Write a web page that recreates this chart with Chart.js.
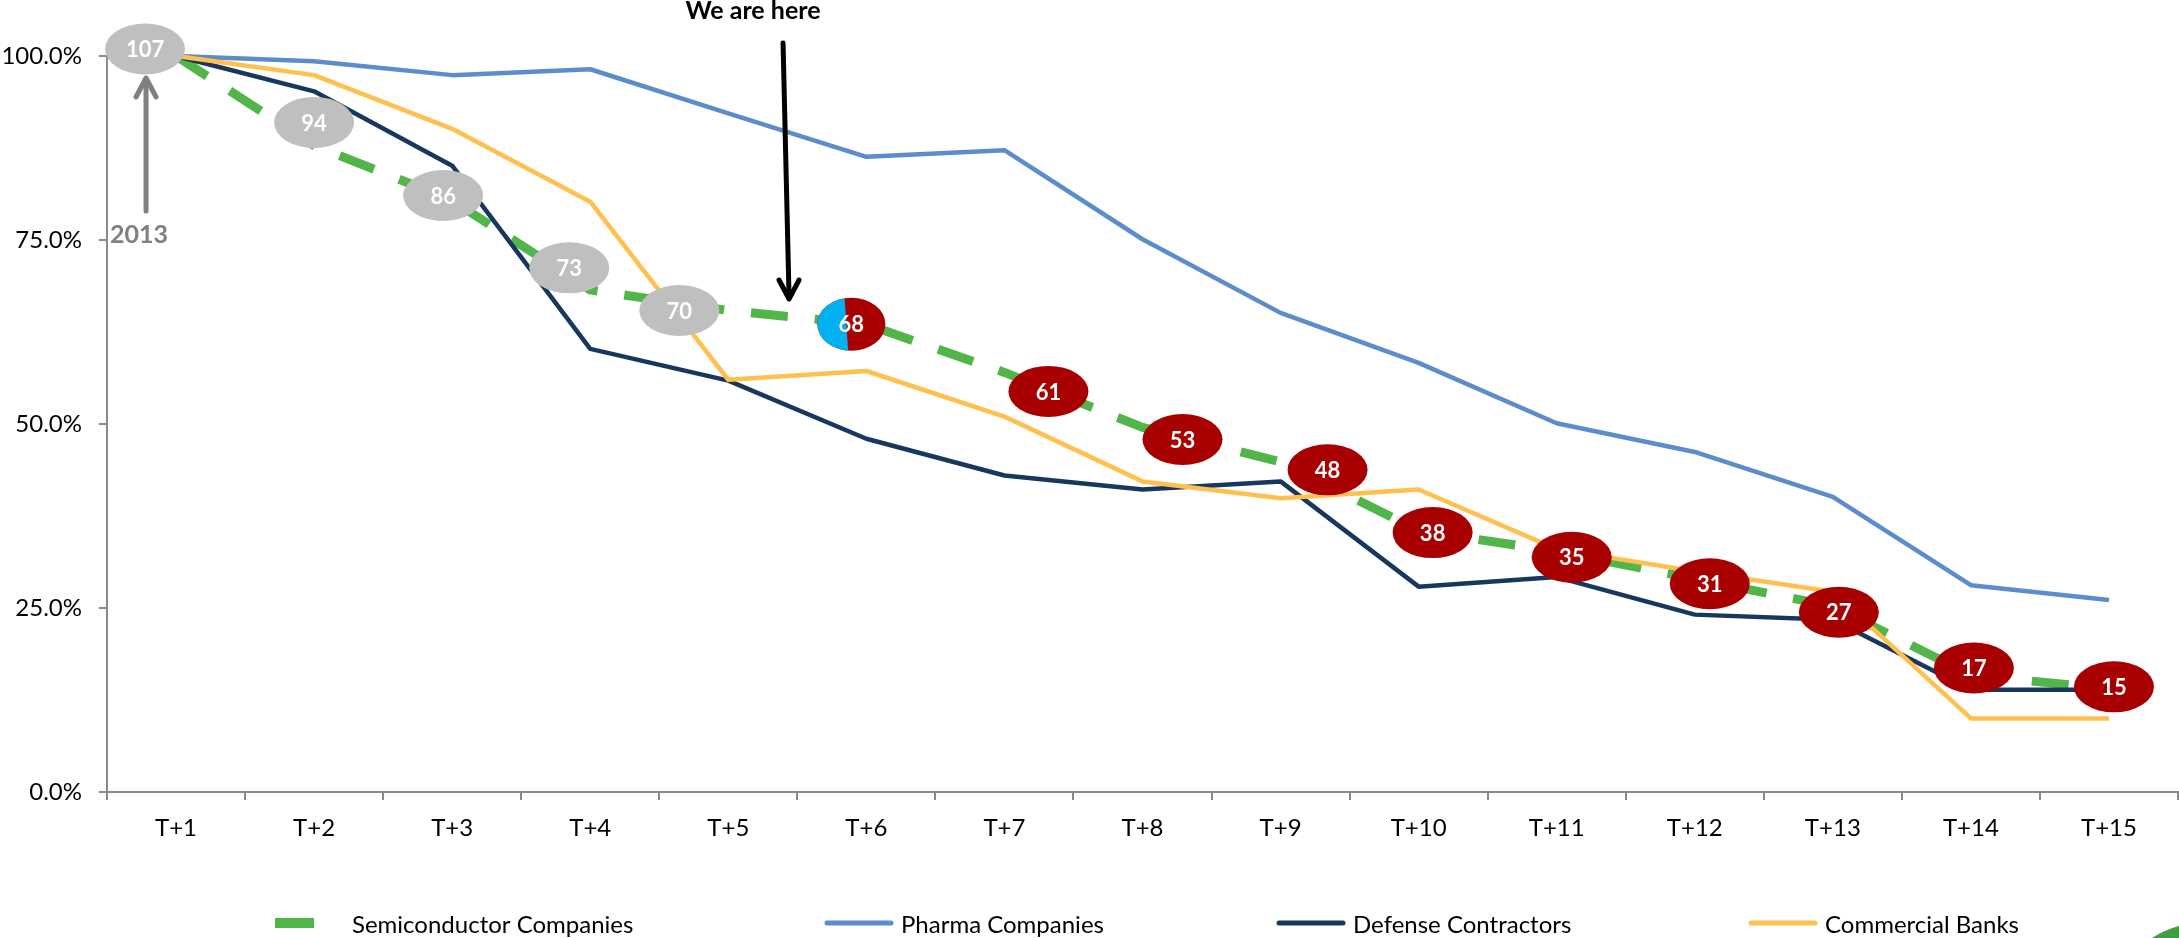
<!DOCTYPE html>
<html>
<head>
<meta charset="utf-8">
<script src="https://cdn.jsdelivr.net/npm/chart.js@4.4.1/dist/chart.umd.min.js"></script>
<style>
  html, body { margin: 0; padding: 0; background: #fff; }
  #wrap { width: 2179px; height: 938px; }
</style>
</head>
<body>
<div id="wrap"><canvas id="myChart" width="2179" height="938"></canvas></div>
<script>
const periods = ["T+1", "T+2", "T+3", "T+4", "T+5", "T+6", "T+7", "T+8", "T+9", "T+10", "T+11", "T+12", "T+13", "T+14", "T+15"];
// number of semiconductor companies left in each period
const semiCounts = [107, 94, 86, 73, 70, 68, 61, 53, 48, 38, 35, 31, 27, 17, 15];
// share of companies remaining, in %
const pharma = [100, 99.3, 97.4, 98.2, 92.2, 86.3, 87.2, 75.1, 65.1, 58.3, 50.1, 46.2, 40.1, 28.1, 26.1];
const defense = [100, 95.2, 85.1, 60.2, 55.9, 48.0, 43.0, 41.1, 42.2, 27.9, 29.2, 24.1, 23.4, 13.9, 13.9];
const banks = [100, 97.4, 90.1, 80.2, 56.0, 57.2, 51.0, 42.2, 39.9, 41.1, 33.0, 30.0, 27.2, 10.0, 10.0];
const yTicks = [0, 25, 50, 75, 100];

const currentIdx = 5;      // T+6 is the current period
const herePos = 4.44;      // where the "We are here" arrow lands on the x axis
const startYear = "2013";

const semiPct = semiCounts.map((c) => (c / semiCounts[0]) * 100);

const GREEN = "#52b549";
const BLUE = "#5b8dcc";
const NAVY = "#17375e";
const YELLOW = "#ffc04d";
const AXIS = "#8a8a8a";
const FONT = "Lato";

// label bubble nudges (px) so they sit clear of the lines
const bubbleShift = [[-31, -7], [0, -23], [-9, -5], [-21, -22], [-49, 0], [-15, 0], [44, 19], [40, 12],
  [47, 8], [14, 2], [15, 6], [15, 5], [6, 6], [3, -7], [5, -2]];

const legendX = [275, 824, 1276, 1748];

const overlay = {
  id: "overlay",
  afterDatasetsDraw(chart) {
    const ctx = chart.ctx;
    const xs = chart.scales.x;
    const pts = chart.getDatasetMeta(0).data;

    ctx.save();
    pts.forEach((pt, i) => {
      const cx = pt.x + bubbleShift[i][0];
      const cy = pt.y + bubbleShift[i][1];
      if (i === currentIdx) {
        ctx.save();
        ctx.beginPath();
        ctx.ellipse(cx, cy, 34, 26.5, 0, 0, Math.PI * 2);
        ctx.clip();
        ctx.fillStyle = "#a80000";
        ctx.fillRect(cx - 40, cy - 30, 80, 60);
        ctx.fillStyle = "#00b0f0";
        ctx.beginPath();
        ctx.moveTo(cx - 40, cy - 30);
        ctx.lineTo(cx - 7, cy - 30);
        ctx.lineTo(cx - 3, cy + 30);
        ctx.lineTo(cx - 40, cy + 30);
        ctx.fill();
        ctx.restore();
      } else {
        ctx.fillStyle = i < currentIdx ? "#bfbfbf" : "#a80000";
        ctx.beginPath();
        ctx.ellipse(cx, cy, 40, 25.5, 0, 0, Math.PI * 2);
        ctx.fill();
      }
      ctx.fillStyle = "#fff";
      ctx.font = "bold 22px " + FONT;
      ctx.textAlign = "center";
      ctx.textBaseline = "middle";
      ctx.fillText(String(semiCounts[i]), cx, cy + 1);
    });

    // grey arrow up to the first bubble, with the start year
    const ax = pts[0].x + bubbleShift[0][0] + 1;
    ctx.strokeStyle = "#808080";
    ctx.lineWidth = 5;
    ctx.lineCap = "round";
    ctx.lineJoin = "round";
    ctx.beginPath();
    ctx.moveTo(ax, 211);
    ctx.lineTo(ax, 80);
    ctx.stroke();
    ctx.beginPath();
    ctx.moveTo(ax - 10, 97);
    ctx.lineTo(ax, 78);
    ctx.lineTo(ax + 10, 97);
    ctx.stroke();
    ctx.fillStyle = "#808080";
    ctx.font = "bold 25px " + FONT;
    ctx.textAlign = "center";
    ctx.textBaseline = "alphabetic";
    ctx.fillText(startYear, ax - 7, 243);

    // "We are here" marker
    const hx = xs.getPixelForValue(herePos);
    ctx.strokeStyle = "#000";
    ctx.beginPath();
    ctx.moveTo(hx - 6, 43);
    ctx.lineTo(hx, 297);
    ctx.stroke();
    ctx.beginPath();
    ctx.moveTo(hx - 10, 280);
    ctx.lineTo(hx, 299);
    ctx.lineTo(hx + 10, 280);
    ctx.stroke();
    ctx.fillStyle = "#000";
    ctx.font = "bold 25px " + FONT;
    ctx.fillText("We are here", hx - 36, 19);
    ctx.restore();
  },
  afterDraw(chart) {
    const ctx = chart.ctx;
    ctx.save();
    chart.data.datasets.forEach((ds, i) => {
      const x0 = legendX[i];
      if (ds.borderDash) {
        ctx.fillStyle = ds.borderColor;
        ctx.fillRect(x0, 918, 39, 10);
      } else {
        ctx.strokeStyle = ds.borderColor;
        ctx.lineWidth = 5;
        ctx.lineCap = "round";
        ctx.beginPath();
        ctx.moveTo(x0 + 3, 923);
        ctx.lineTo(x0 + 67, 923);
        ctx.stroke();
      }
      ctx.fillStyle = "#000";
      ctx.font = "24px " + FONT;
      ctx.textAlign = "left";
      ctx.textBaseline = "alphabetic";
      ctx.fillText(ds.label, x0 + 77, 933);
    });
    // corner logo swoosh
    ctx.fillStyle = "#3f9e3f";
    ctx.beginPath();
    ctx.moveTo(2152, 938);
    ctx.quadraticCurveTo(2164, 930, 2179, 926);
    ctx.lineTo(2179, 938);
    ctx.closePath();
    ctx.fill();
    ctx.restore();
  }
};

const lineBase = { pointRadius: 0, pointHoverRadius: 0, tension: 0, fill: false, clip: false, borderJoinStyle: "round" };

new Chart(document.getElementById("myChart"), {
  type: "line",
  data: {
    labels: periods,
    datasets: [
      { ...lineBase, label: "Semiconductor Companies", data: semiPct, borderColor: GREEN, borderWidth: 9, borderDash: [37, 27], borderCapStyle: "butt", order: 3 },
      { ...lineBase, label: "Pharma Companies", data: pharma, borderColor: BLUE, borderWidth: 4.5, order: 2 },
      { ...lineBase, label: "Defense Contractors", data: defense, borderColor: NAVY, borderWidth: 4.5, order: 1 },
      { ...lineBase, label: "Commercial Banks", data: banks, borderColor: YELLOW, borderWidth: 4.5, order: 0 },
    ],
  },
  options: {
    responsive: false,
    devicePixelRatio: 1,
    animation: false,
    events: [],
    layout: { padding: { top: 56, right: 1, left: 0, bottom: 0 } },
    plugins: { legend: { display: false }, tooltip: { enabled: false } },
    scales: {
      x: {
        offset: true,
        grid: { display: true, drawOnChartArea: false, drawTicks: true, tickLength: 8, color: AXIS, lineWidth: 2, offset: true },
        border: { display: true, color: AXIS, width: 2 },
        ticks: { color: "#000", font: { family: FONT, size: 24 }, padding: 14, maxRotation: 0, autoSkip: false },
        afterFit: (s) => { s.height = 146; },
      },
      y: {
        min: 0,
        max: 100,
        grid: { display: true, drawOnChartArea: false, drawTicks: true, tickLength: 8, color: AXIS, lineWidth: 2 },
        border: { display: true, color: AXIS, width: 2 },
        ticks: { color: "#000", font: { family: FONT, size: 24 }, padding: 17, callback: (v) => v.toFixed(1) + "%" },
        afterBuildTicks: (s) => { s.ticks = yTicks.map((v) => ({ value: v })); },
        afterFit: (s) => { s.width = 107; },
      },
    },
  },
  plugins: [overlay],
});
</script>
</body>
</html>
